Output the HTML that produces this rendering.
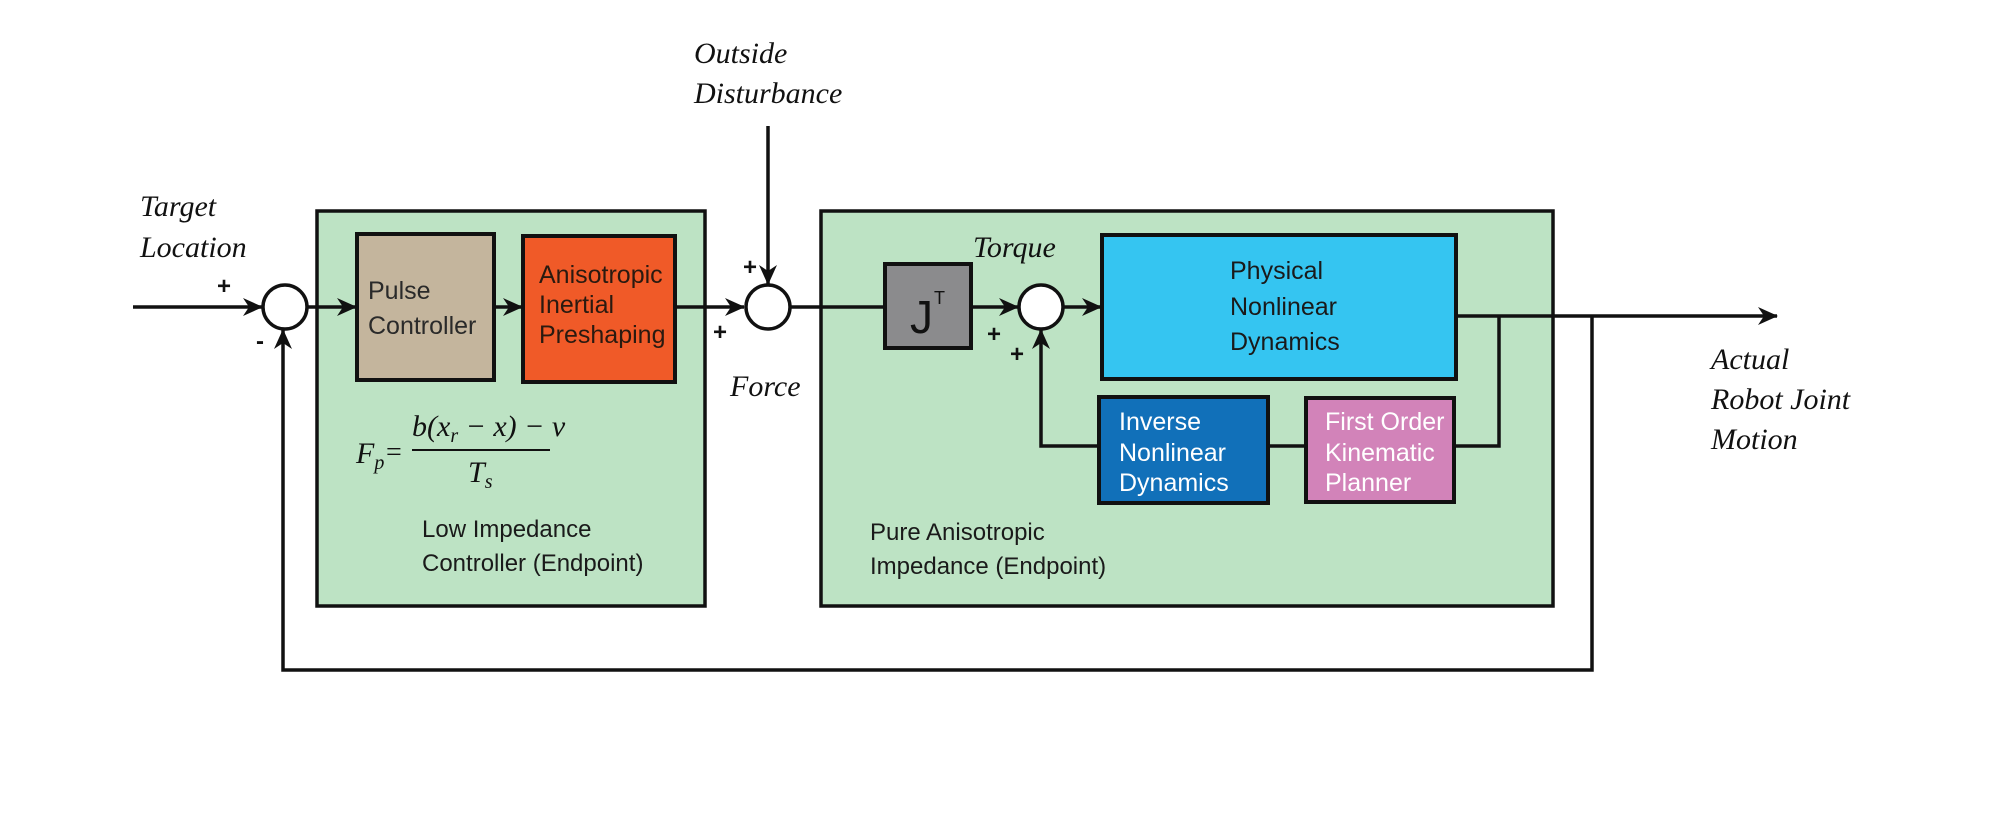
<!DOCTYPE html>
<html><head><meta charset="utf-8"><style>
html,body{margin:0;padding:0;background:#fff;}
svg{display:block;}
.it{font-family:"Liberation Serif",serif;font-style:italic;font-size:30px;fill:#111;}
.sn{font-family:"Liberation Sans",sans-serif;font-size:24px;fill:#1a1a1a;}
.bx{font-family:"Liberation Sans",sans-serif;font-size:25px;}
.pm{font-family:"Liberation Sans",sans-serif;font-weight:bold;font-size:24px;fill:#111;}
</style></head><body>
<svg width="1994" height="813" viewBox="0 0 1994 813" xmlns="http://www.w3.org/2000/svg">
<defs>
<marker id="b" markerWidth="22" markerHeight="18" refX="19" refY="9" orient="auto" markerUnits="userSpaceOnUse"><path d="M0,0 L20,9 L0,18 L6,9 z" fill="#111"/></marker></defs>
<g stroke="#111" stroke-width="3.5">
<rect x="317" y="211" width="388" height="395" fill="#bde3c4"/>
<rect x="821" y="211" width="732" height="395" fill="#bde3c4"/>
<rect x="357" y="234" width="137" height="146" fill="#c4b59d" stroke-width="4"/>
<rect x="523" y="236" width="152" height="146" fill="#f05a28" stroke-width="4"/>
<rect x="885" y="264" width="86" height="84" fill="#8b8b8d" stroke-width="4"/>
<rect x="1102" y="235" width="354" height="144" fill="#35c5f1" stroke-width="4"/>
<rect x="1099" y="397" width="169" height="106" fill="#1170b9" stroke-width="4"/>
<rect x="1306" y="398" width="148" height="104" fill="#d283b9" stroke-width="4"/>
</g>
<g stroke="#111" stroke-width="3.5" fill="none">
<line x1="133" y1="307" x2="262" y2="307" marker-end="url(#b)"/>
<line x1="307" y1="307" x2="356" y2="307" marker-end="url(#b)"/>
<line x1="494" y1="307" x2="522" y2="307" marker-end="url(#b)"/>
<line x1="675" y1="307" x2="744" y2="307" marker-end="url(#b)"/>
<line x1="768" y1="126" x2="768" y2="284" marker-end="url(#b)"/>
<line x1="790" y1="307" x2="885" y2="307"/>
<line x1="971" y1="307" x2="1018" y2="307" marker-end="url(#b)"/>
<line x1="1063" y1="307" x2="1101" y2="307" marker-end="url(#b)"/>
<line x1="1456" y1="316" x2="1777" y2="316" marker-end="url(#b)"/>
<polyline points="1499,316 1499,446 1454,446"/>
<line x1="1268" y1="446" x2="1306" y2="446"/>
<polyline points="1099,446 1041,446 1041,330" marker-end="url(#b)"/>
<polyline points="1592,316 1592,670 283,670 283,330" marker-end="url(#b)"/>
</g>
<g stroke="#111" stroke-width="3.5" fill="#fff">
<circle cx="285" cy="307" r="22"/>
<circle cx="768" cy="307" r="22"/>
<circle cx="1041" cy="307" r="22"/>
</g>
<text class="it" x="140" y="216">Target</text>
<text class="it" x="140" y="257">Location</text>
<text class="it" x="694" y="63">Outside</text>
<text class="it" x="694" y="103">Disturbance</text>
<text class="it" x="730" y="396">Force</text>
<text class="it" x="973" y="257">Torque</text>
<text class="it" x="1711" y="369">Actual</text>
<text class="it" x="1711" y="409">Robot Joint</text>
<text class="it" x="1711" y="449">Motion</text>
<text class="pm" x="217" y="294">+</text>
<text class="pm" x="256" y="349">-</text>
<text class="pm" x="743" y="275">+</text>
<text class="pm" x="713" y="340">+</text>
<text class="pm" x="987" y="342">+</text>
<text class="pm" x="1010" y="362">+</text>
<text class="bx" x="368" y="299" fill="#2a2a2a" font-size="26">Pulse</text>
<text class="bx" x="368" y="334" fill="#2a2a2a" font-size="24">Controller</text>
<text class="bx" x="539" y="283" fill="#2a1a10" font-size="21">Anisotropic</text>
<text class="bx" x="539" y="313" fill="#2a1a10" font-size="21">Inertial</text>
<text class="bx" x="539" y="343" fill="#2a1a10" font-size="21">Preshaping</text>
<text x="910" y="333" font-family="Liberation Sans,sans-serif" font-size="46" fill="#111">J</text>
<text x="934" y="304" font-family="Liberation Sans,sans-serif" font-size="18" fill="#111">T</text>
<text class="bx" x="1230" y="279" fill="#1a1a1a" font-size="26">Physical</text>
<text class="bx" x="1230" y="315" fill="#1a1a1a" font-size="26">Nonlinear</text>
<text class="bx" x="1230" y="350" fill="#1a1a1a" font-size="26">Dynamics</text>
<text class="bx" x="1119" y="430" fill="#fff" font-size="21">Inverse</text>
<text class="bx" x="1119" y="461" fill="#fff" font-size="21">Nonlinear</text>
<text class="bx" x="1119" y="491" fill="#fff" font-size="21">Dynamics</text>
<text class="bx" x="1325" y="430" fill="#fff" font-size="18">First Order</text>
<text class="bx" x="1325" y="461" fill="#fff" font-size="18">Kinematic</text>
<text class="bx" x="1325" y="491" fill="#fff" font-size="18">Planner</text>
<text class="sn" x="422" y="537">Low Impedance</text>
<text class="sn" x="422" y="571">Controller (Endpoint)</text>
<text class="sn" x="870" y="540">Pure Anisotropic</text>
<text class="sn" x="870" y="574">Impedance (Endpoint)</text>
<g font-family="Liberation Serif,serif" font-style="italic" fill="#111">
<text x="356" y="463" font-size="30">F<tspan font-size="20" dy="6">p</tspan></text>
<text x="386" y="461" font-size="28" font-style="normal">=</text>
<text x="412" y="436" font-size="30">b(x<tspan font-size="20" dy="6">r</tspan><tspan dy="-6"> − x) − v</tspan></text>
<text x="468" y="482" font-size="30">T<tspan font-size="20" dy="6">s</tspan></text>
</g>
<line x1="412" y1="450" x2="550" y2="450" stroke="#111" stroke-width="2"/>
</svg>
</body></html>
